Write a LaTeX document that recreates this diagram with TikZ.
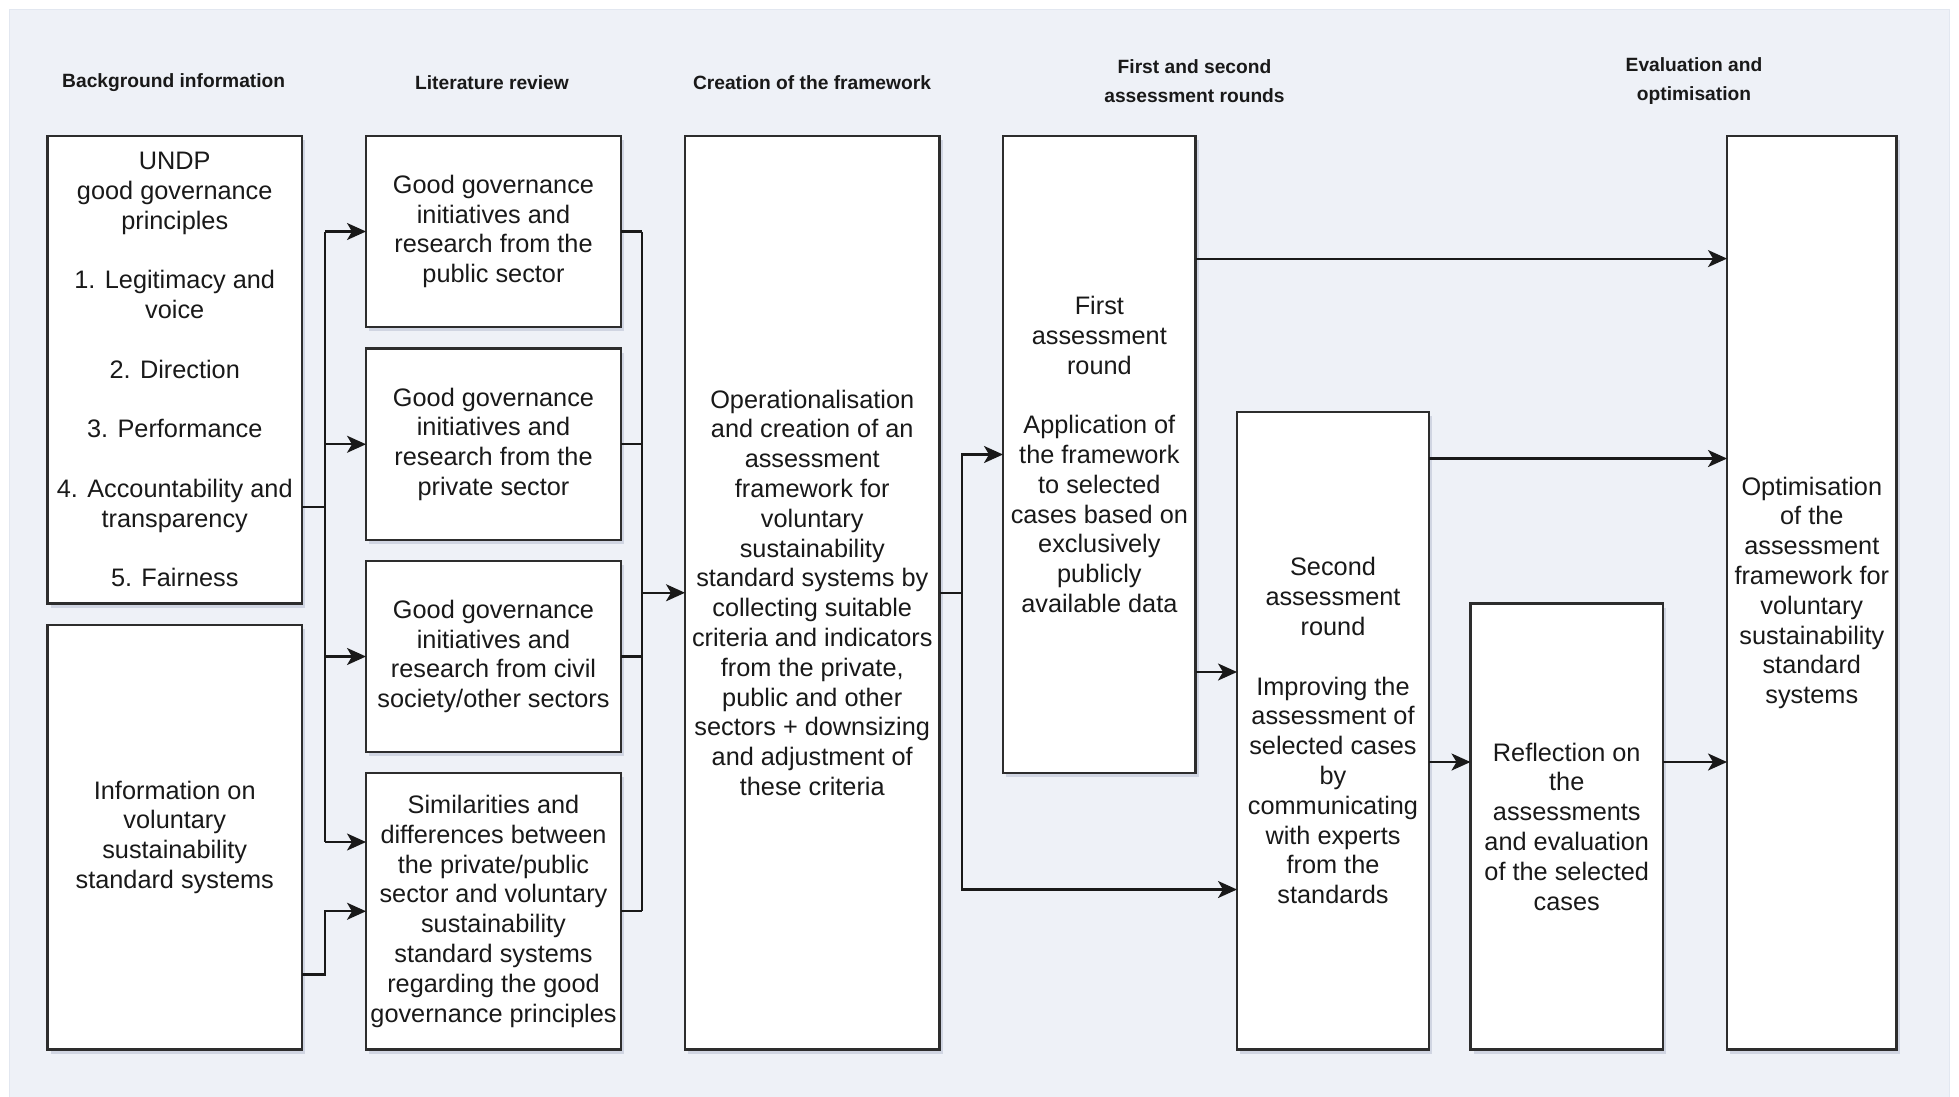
\documentclass[tikz,border=0pt]{standalone}
\usepackage{fontspec}
\setmainfont{Liberation Sans}
\usetikzlibrary{arrows.meta,shadows}
\definecolor{panelbg}{RGB}{238,241,247}
\definecolor{paneledge}{RGB}{226,231,240}
\definecolor{shadowc}{RGB}{140,150,180}
\definecolor{edgec}{RGB}{45,45,45}
\newcommand\mybodyfont{\fontsize{25.3}{29.8}\selectfont}
\newcommand\myhdrfont{\bfseries\fontsize{19.2}{29.5}\selectfont}
\begin{document}
\begin{tikzpicture}[x=1pt,y=-1pt,
  box/.style={draw=edgec, line width=2.6pt, fill=white, inner sep=0pt, outer sep=0pt,
    align=center, font=\mybodyfont, text=black!90,
    drop shadow={shadow xshift=3pt, shadow yshift=-4pt, fill=shadowc, opacity=0.3}},
  hdr/.style={align=center, font=\myhdrfont, text=black!90},
  conn/.style={draw=black!90, line width=2.2pt},
  arr/.style={conn, -{Stealth[length=19pt,width=17pt,inset=5pt]}},
]
\useasboundingbox (0,0) rectangle (1959,1096);
\fill[white] (0,0) rectangle (1959,1096);
\filldraw[fill=panelbg, draw=paneledge, line width=1pt] (9,9) rectangle (1949,1100);

% headers
\node[hdr] (h1) at (173.7,82.5) {Background information};
\node[hdr] (h2) at (492,82.5) {Literature review};
\node[hdr] (h3) at (812,82.5) {Creation of the framework};
\node[hdr] (h4) at (1194.5,81) {First and second\\assessment rounds};
\node[hdr] (h5) at (1694,81) {Evaluation and\\optimisation};

% boxes
\node[box, minimum width=254.5pt, minimum height=467.5pt] (b1) at (174.75,369.75)
 {UNDP\\good governance\\principles\\[29.8pt]1. Legitimacy and\\voice\\[29.8pt]2. Direction\\[29.8pt]3. Performance\\[29.8pt]4. Accountability and\\transparency\\[29.8pt]5. Fairness};
\node[box, minimum width=254.5pt, minimum height=424.5pt] (b2) at (174.75,837.25)
 {Information on\\voluntary\\sustainability\\standard systems};
\node[box, minimum width=255pt, minimum height=191pt] (l1) at (493.5,231.5)
 {Good governance\\initiatives and\\research from the\\public sector};
\node[box, minimum width=255pt, minimum height=191.5pt] (l2) at (493.5,444.25)
 {Good governance\\initiatives and\\research from the\\private sector};
\node[box, minimum width=255pt, minimum height=191pt] (l3) at (493.5,656.5)
 {Good governance\\initiatives and\\research from civil\\society/other sectors};
\node[box, minimum width=255pt, minimum height=276.5pt] (l4) at (493.5,911.25)
 {Similarities and\\differences between\\the private/public\\sector and voluntary\\sustainability\\standard systems\\regarding the good\\governance principles};
\node[box, minimum width=254.5pt, minimum height=913.5pt] (c) at (812.25,592.75)
 {Operationalisation\\and creation of an\\assessment\\framework for\\voluntary\\sustainability\\standard systems by\\collecting suitable\\criteria and indicators\\from the private,\\public and other\\sectors + downsizing\\and adjustment of\\these criteria};
\node[box, minimum width=192.7pt, minimum height=637pt] (f1) at (1099.35,454.5)
 {First\\assessment\\round\\[29.8pt]Application of\\the framework\\to selected\\cases based on\\exclusively\\publicly\\available data};
\node[box, minimum width=192pt, minimum height=637.5pt] (s) at (1333,730.75)
 {Second\\assessment\\round\\[29.8pt]Improving the\\assessment of\\selected cases\\by\\communicating\\with experts\\from the\\standards};
\node[box, minimum width=192.5pt, minimum height=446pt] (r) at (1566.75,826.5)
 {Reflection on\\the\\assessments\\and evaluation\\of the selected\\cases};
\node[box, minimum width=169.6pt, minimum height=913.5pt] (o) at (1811.8,592.75)
 {Optimisation\\of the\\assessment\\framework for\\voluntary\\sustainability\\standard\\systems};

% junction coordinates
\coordinate (j1) at (325,507);
\coordinate (j1d) at (325,842);
\coordinate (j2) at (325,974.5);
\coordinate (k) at (642,592.75);
\coordinate (m) at (962,889.5);
\coordinate (p1) at (1100,258.6);
\coordinate (p2) at (1100,672);
\coordinate (p3) at (1300,458.5);
\coordinate (p4) at (1500,762);

% background -> literature
\draw[conn] (b1.east |- j1) -- (j1);
\draw[conn] (j1 |- l1.west) -- (j1d);
\draw[arr] (j1 |- l1.west) -- (l1.west);
\draw[arr] (j1 |- l2.west) -- (l2.west);
\draw[arr] (j1 |- l3.west) -- (l3.west);
\draw[arr] (j1d) -- (l4.west |- j1d);
\draw[arr] (b2.east |- j2) -- (j2) |- (l4.west);

% literature -> creation
\draw[conn] (l1.east) -- (l1.east -| k);
\draw[conn] (l2.east) -- (l2.east -| k);
\draw[conn] (l3.east) -- (l3.east -| k);
\draw[conn] (l4.east) -- (l4.east -| k);
\draw[conn] (l1.east -| k) -- (l4.east -| k);
\draw[arr] (k) -- (c.west);

% creation -> assessment rounds
\draw[conn] (c.east) -- (c.east -| m);
\draw[arr] (c.east -| m) |- (f1.west);
\draw[arr] (c.east -| m) -- (m) -- (s.west |- m);

% assessment rounds -> evaluation
\draw[arr] (f1.east |- p1) -- (o.west |- p1);
\draw[arr] (f1.east |- p2) -- (s.west |- p2);
\draw[arr] (s.east |- p3) -- (o.west |- p3);
\draw[arr] (s.east |- p4) -- (r.west |- p4);
\draw[arr] (r.east |- p4) -- (o.west |- p4);
\end{tikzpicture}
\end{document}
